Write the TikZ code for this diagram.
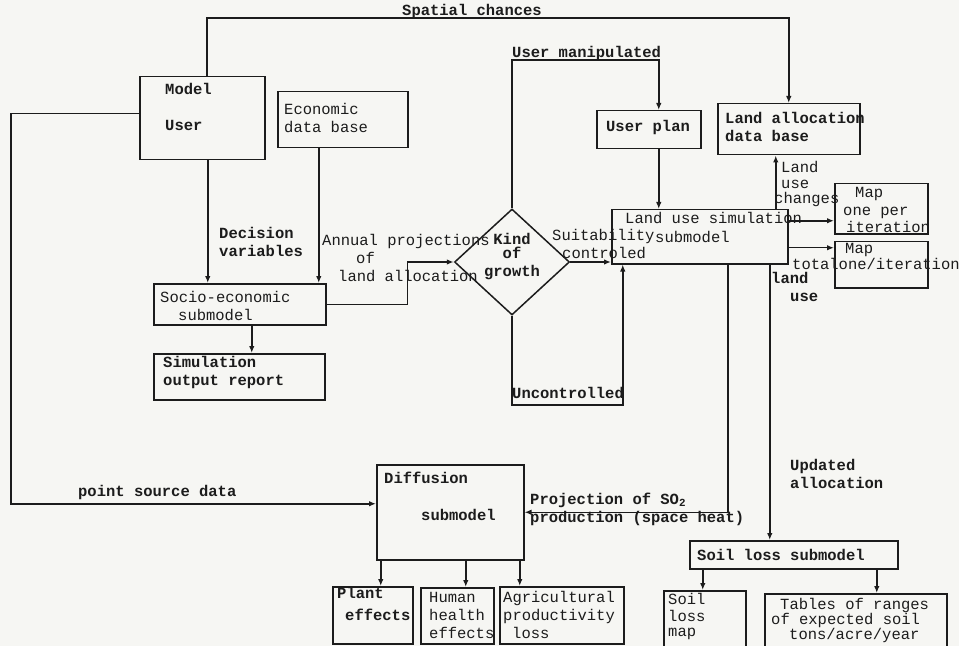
\documentclass[tikz,border=0pt]{standalone}
\usepackage{fontspec}
\setmonofont{Liberation Mono}
\usetikzlibrary{arrows.meta,shapes.geometric}
\definecolor{paper}{RGB}{246,246,243}
\definecolor{ink}{RGB}{28,28,28}

\begin{document}
\begin{tikzpicture}[x=1bp,y=-1bp,
		box/.style={draw=ink,line width=1.5bp,inner sep=0pt,anchor=north west},
		txt/.style={text=ink,inner sep=0pt,anchor=west,align=left,
			font=\ttfamily\bfseries\fontsize{15.5bp}{18bp}\selectfont},
		ltxt/.style={txt,font=\ttfamily\fontsize{15.5bp}{18bp}\selectfont},
		flow/.style={draw=ink,line width=1.5bp,-{Latex[length=7bp,width=5.5bp]}}]

		\path[use as bounding box,fill=paper] (0,0) rectangle (959,646);

		\node[box,minimum width=125bp,minimum height=83bp] (user) at (139,76) {};
		\node[box,minimum width=130bp,minimum height=56bp] (econ) at (277,91) {};
		\node[box,minimum width=172bp,minimum height=41bp] (socio) at (153,283) {};
		\node[box,minimum width=171bp,minimum height=46bp] (simrep) at (153,353) {};
		\node[box,minimum width=147bp,minimum height=95bp] (diff) at (376,464) {};
		\node[box,minimum width=80bp,minimum height=57bp] (plant) at (332,586) {};
		\node[box,minimum width=73bp,minimum height=56bp] (human) at (420,587) {};
		\node[box,minimum width=124bp,minimum height=57bp] (agri) at (499,586) {};
		\node[box,minimum width=208bp,minimum height=28bp] (soil) at (689,540) {};
		\node[box,minimum width=82bp,minimum height=60bp] (soilmap) at (663,590) {};
		\node[box,minimum width=182bp,minimum height=57bp] (tables) at (764,593) {};
		\node[box,minimum width=104bp,minimum height=38bp] (userplan) at (596,110) {};
		\node[box,minimum width=142bp,minimum height=51bp] (landalloc) at (717,103) {};
		\node[box,minimum width=176bp,minimum height=54bp] (lus) at (611,209) {};
		\node[box,minimum width=93bp,minimum height=50bp] (map1) at (834,183) {};
		\node[box,minimum width=93bp,minimum height=46bp] (map2) at (834,241) {};
		\node[draw=ink,line width=1.5bp,diamond,minimum width=115bp,
			minimum height=106bp,inner sep=0pt] (kind) at (512,262) {};

		\node[txt] (modeltxt) at (165,107) {Model\\[18bp]User};
		\node[ltxt] (econtxt) at (284,118) {Economic\\data base};
		\node[ltxt] (sociotxt) at (160,306) {Socio-economic\\\hspace*{18bp}submodel};
		\node[txt] (simreptxt) at (163,372) {Simulation\\output report};
		\node[txt] (decision) at (219,242) {Decision\\variables};
		\node[ltxt] (annual) at (322,258) {Annual projections\\\hspace*{34bp}of\\\hspace*{16bp}land allocation};
		\node[txt,anchor=center,align=center] (kindtxt) at (512,257) {Kind\\[-4bp]of\\growth};
		\node[ltxt] (suit) at (552,244) {Suitability\\\hspace*{10bp}controled};
		\node[ltxt] (lustxt) at (625,227) {Land use simulation\\[1bp]\hspace*{30bp}submodel};
		\node[txt] (manip) at (512,53) {User manipulated};
		\node[txt] (spatial) at (402,11) {Spatial chances};
		\node[txt,anchor=center] (userplantxt) at (648,127) {User plan};
		\node[txt] (alloctxt) at (725,127) {Land allocation\\data base};
		\node[ltxt] (changes) at (781,184) {Land\\[-2bp]use\\[-3bp]\hspace*{-7bp}changes};
		\node[ltxt] (map1txt) at (838,210) {\hspace*{17bp}Map\\[-0.5bp]\hspace*{5bp}one per\\[-0.5bp]\hspace*{8bp}iteration};
		\node[ltxt] (map2txt) at (792,256) {\hspace*{53bp}Map\\[-2bp]totalone/iteration};
		\node[txt] (landuse) at (771,287) {land\\\hspace*{19bp}use};
		\node[txt] (updated) at (790,474) {Updated\\allocation};
		\node[txt] (proj) at (530,509) {Projection of SO\textsubscript{2}\\production (space heat)};
		\node[txt] (uncontr) at (512,393) {Uncontrolled};
		\node[txt] (pointsrc) at (78,492) {point source data};
		\node[txt] (difftxt) at (384,496) {Diffusion\\[19bp]\hspace*{37bp}submodel};
		\node[txt] (planttxt) at (337,604) {Plant\\[4bp]\hspace*{8bp}effects};
		\node[ltxt] (humantxt) at (429,615) {Human\\health\\effects};
		\node[ltxt] (agritxt) at (503,615) {Agricultural\\productivity\\\hspace*{9bp}loss};
		\node[txt] (soiltxt) at (697,555) {Soil loss submodel};
		\node[ltxt] (soilmaptxt) at (668,616) {Soil\\[-1bp]loss\\[-3bp]map};
		\node[ltxt] (tablestxt) at (771,620) {\hspace*{9bp}Tables of ranges\\[-3bp]of expected soil\\[-3bp]\hspace*{18bp}tons/acre/year};

		\draw[flow] ([xshift=5.5bp]user.south) -- ([xshift=5.5bp]user.south |- socio.north);
		\draw[flow] ([xshift=-24bp]econ.south) -- ([xshift=-24bp]econ.south |- socio.north);
		\draw[flow] ([xshift=12bp]socio.south) -- ([xshift=12bp]socio.south |- simrep.north);
		\draw[flow] (socio.east) -- ++(81,0) |- (kind.west);
		\draw[flow] ([xshift=4.5bp]user.north) -- ++(0,-58) -| (landalloc.north);
		\draw[flow] ([yshift=4.5bp]user.west) -- ++(-128,0) |- ([yshift=8.5bp]diff.west);
		\draw[flow] (kind.north) -- ++(0,-148) -| ([xshift=10bp]userplan.north);
		\draw[flow] (kind.south) -- ++(0,89) -| ([xshift=-77bp]lus.south);
		\draw[flow] (kind.east) -- (kind.east -| lus.west);
		\draw[flow] ([xshift=10bp]userplan.south) -- ([xshift=10bp]userplan.south |- lus.north);
		\draw[flow] ([xshift=76bp]lus.north) -- ([xshift=76bp]lus.north |- landalloc.south);
		\draw[flow] ([yshift=-12bp]map1.west -| lus.east) -- ([yshift=-12bp]map1.west);
		\draw[flow] ([yshift=17bp]map2.west -| lus.east) -- ([yshift=17bp]map2.west);
		\draw[flow] ([xshift=70bp]lus.south) -- ([xshift=70bp]lus.south |- soil.north);
		\draw[flow] ([xshift=28bp]lus.south) |- (diff.east);
		\draw[flow] ([xshift=8bp]plant.north |- diff.south) -- ([xshift=8bp]plant.north);
		\draw[flow] ([xshift=8.5bp]human.north |- diff.south) -- ([xshift=8.5bp]human.north);
		\draw[flow] ([xshift=-42bp]agri.north |- diff.south) -- ([xshift=-42bp]agri.north);
		\draw[flow] ([xshift=-2bp]soilmap.north |- soil.south) -- ([xshift=-2bp]soilmap.north);
		\draw[flow] ([xshift=21bp]tables.north |- soil.south) -- ([xshift=21bp]tables.north);

	\end{tikzpicture}
\end{document}
